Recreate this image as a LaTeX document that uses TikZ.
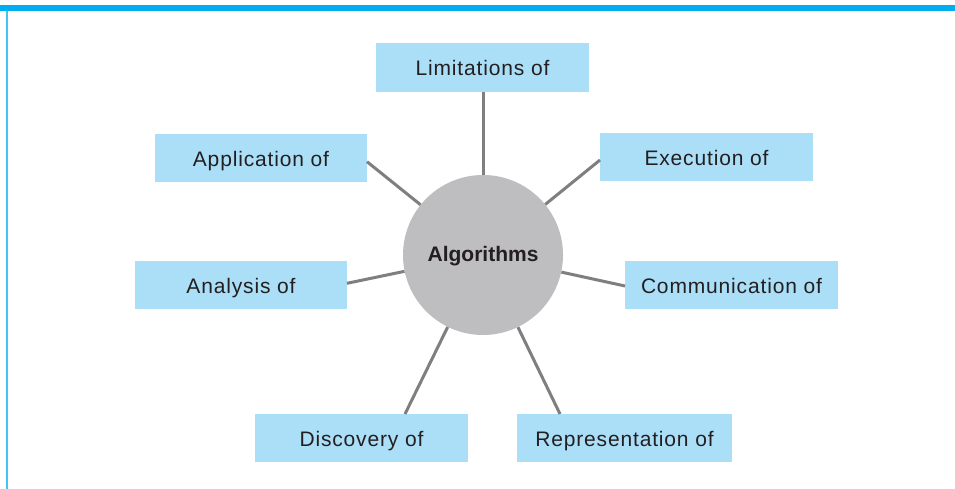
\documentclass[tikz,border=0pt]{standalone}
\usepackage{fontspec}
\setmainfont{Liberation Sans}
\newfontfamily\boxfont[LetterSpace=4]{Liberation Sans}
\definecolor{barcyan}{HTML}{00AEEF}
\definecolor{edgecyan}{HTML}{45C3F2}
\definecolor{boxblue}{HTML}{ABDFF8}
\definecolor{circgray}{HTML}{BEBEC0}
\definecolor{linegray}{HTML}{7F7F7F}
\definecolor{textdark}{HTML}{231F20}
\begin{document}
\begin{tikzpicture}[x=1pt,y=-1pt,
  topicbox/.style={rectangle, fill=boxblue, inner sep=0pt, text=textdark,
    text height=17pt, text depth=0pt,
    font=\boxfont\fontsize{21}{25}\selectfont},
  hub/.style={circle, fill=circgray, inner sep=0pt, minimum size=160pt,
    text height=13.4pt, text depth=0pt,
    text=textdark, font=\bfseries\fontsize{21}{25}\selectfont},
  spoke/.style={draw=linegray, line width=3pt}]
\useasboundingbox (0,0) rectangle (955,489);
\fill[white] (0,0) rectangle (955,489);
% frame
\fill[barcyan] (0,5) rectangle (955,11.5);
\draw[edgecyan, line width=2pt] (6.6,11) -- (6.6,489);
% nodes
\node[hub] (circ) at (483,255) {Algorithms};
\node[topicbox, minimum width=213pt, minimum height=49pt] (lim) at (482.5,67.5) {Limitations of};
\node[topicbox, minimum width=212pt, minimum height=48pt] (app) at (261,158) {Application of};
\node[topicbox, minimum width=213pt, minimum height=48pt] (exe) at (706.5,157) {Execution of};
\node[topicbox, minimum width=212pt, minimum height=48pt] (ana) at (241,285) {Analysis of};
\node[topicbox, minimum width=213pt, minimum height=48pt] (com) at (731.5,285) {Communication of};
\node[topicbox, minimum width=213pt, minimum height=48pt] (dis) at (361.5,438) {Discovery of};
\node[topicbox, minimum width=215pt, minimum height=48pt] (rep) at (624.5,438) {Representation of};
% connector ends on box borders
\coordinate (limE) at (483,92);
\coordinate (appE) at (367,161.7);
\coordinate (exeE) at (600,160);
\coordinate (anaE) at (347,283.3);
\coordinate (comE) at (625,286);
\coordinate (disE) at (405,414);
\coordinate (repE) at (560,414);
% connectors
\draw[spoke] (circ) -- (limE);
\draw[spoke] (circ) -- (appE);
\draw[spoke] (circ) -- (exeE);
\draw[spoke] (circ) -- (anaE);
\draw[spoke] (circ) -- (comE);
\draw[spoke] (circ) -- (disE);
\draw[spoke] (circ) -- (repE);
\end{tikzpicture}
\end{document}
